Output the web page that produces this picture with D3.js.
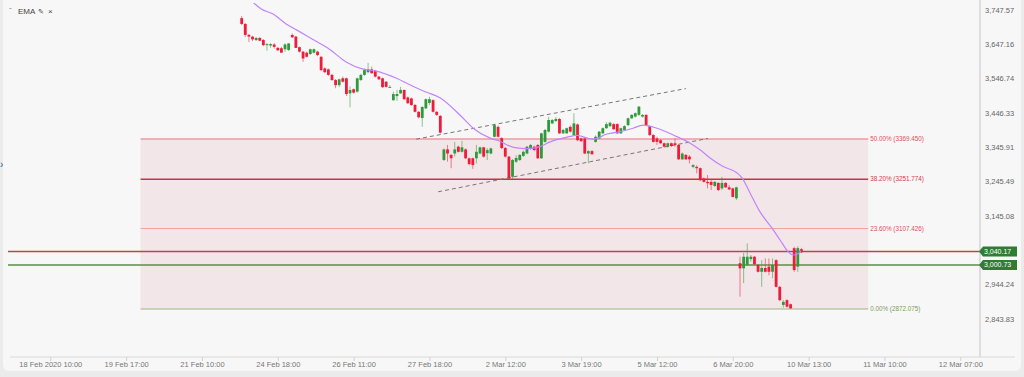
<!DOCTYPE html>
<html><head><meta charset="utf-8">
<script src="https://cdn.jsdelivr.net/npm/d3@7"></script>
<style>
body{margin:0;background:#ebebeb;}
svg{display:block;font-family:"Liberation Sans",Arial,sans-serif;}
</style></head><body>
<svg id="chart" width="1024" height="377"></svg>
<script>
// bar index of the first candle (axis labels sit every 21 bars from bar 0)
var firstBar = 53;
var barOpen  = [3723,3706,3674,3669,3659,3665,3659,3644,3643,3646,3636,3635,3632,3630,3674,3669,3638,3625,3622,3618,3622,3625,3610,3576,3573,3557,3542,3527,3547,3547,3503,3515,3508,3542,3557,3565,3573,3569,3552,3547,3537,3521,3483,3495,3503,3513,3491,3488,3469,3449,3431,3459,3475,3483,3449,3437,3308,3339,3323,3327,3347,3332,3339,3313,3313,3313,3327,3345,3328,3327,3376,3405,3372,3343,3318,3259,3303,3308,3320,3327,3342,3347,3352,3313,3361,3391,3415,3422,3428,3386,3386,3405,3381,3412,3371,3371,3327,3334,3361,3371,3386,3401,3407,3413,3413,3386,3396,3410,3430,3435,3440,3435,3440,3407,3381,3371,3366,3357,3347,3357,3357,3352,3310,3323,3318,3288,3288,3284,3254,3244,3244,3232,3241,3225,3241,3228,3225,3196,3006,2991,3001,3018,3025,3001,2981,2992,2996,2981,3015,2937,2884,2898,2886,3050,2996,3047];
var barHigh  = [3729,3709,3677,3671,3668,3668,3662,3650,3650,3650,3639,3639,3650,3650,3678,3671,3640,3627,3625,3634,3634,3628,3612,3579,3576,3560,3545,3546,3552,3549,3524,3517,3549,3560,3576,3592,3581,3571,3554,3549,3539,3527,3508,3513,3522,3514,3494,3491,3472,3451,3466,3488,3493,3486,3451,3440,3342,3352,3325,3361,3350,3364,3342,3315,3315,3352,3347,3347,3343,3344,3413,3409,3375,3346,3320,3311,3322,3325,3336,3349,3355,3350,3355,3388,3399,3434,3428,3434,3431,3399,3403,3409,3445,3415,3374,3374,3337,3337,3380,3393,3403,3419,3420,3416,3416,3403,3410,3432,3442,3447,3466,3442,3442,3410,3384,3376,3369,3359,3359,3359,3371,3355,3330,3325,3323,3296,3293,3286,3257,3264,3249,3246,3243,3259,3243,3235,3227,3230,3025,3036,3064,3030,3027,3004,3015,3020,3020,3020,3018,2939,2898,2901,2888,3054,3056,3051];
var barLow   = [3703,3668,3653,3656,3656,3656,3641,3628,3636,3634,3627,3621,3625,3627,3665,3636,3622,3595,3608,3615,3620,3612,3568,3562,3554,3539,3518,3521,3535,3495,3462,3502,3505,3539,3554,3562,3560,3549,3542,3519,3520,3519,3481,3481,3501,3483,3472,3466,3447,3430,3405,3457,3469,3447,3437,3385,3305,3303,3284,3318,3330,3330,3311,3293,3282,3298,3325,3315,3308,3325,3374,3374,3340,3315,3252,3252,3299,3305,3317,3325,3337,3334,3311,3311,3359,3388,3413,3419,3384,3384,3384,3388,3378,3363,3361,3325,3298,3323,3359,3369,3384,3399,3404,3396,3384,3384,3393,3407,3428,3432,3437,3432,3407,3378,3359,3352,3355,3344,3344,3346,3347,3308,3308,3308,3298,3284,3269,3246,3242,3225,3220,3229,3217,3220,3226,3220,3198,3191,2908,2948,2998,3010,3001,2979,2937,2979,2971,2962,2935,2895,2876,2876,2872,2981,2981,3036];
var barClose = [3706,3674,3669,3661,3665,3657,3644,3647,3647,3639,3629,3622,3646,3649,3667,3636,3625,3605,3610,3632,3632,3615,3571,3565,3557,3542,3527,3544,3537,3501,3513,3505,3547,3557,3571,3573,3562,3552,3544,3521,3522,3522,3501,3501,3513,3486,3474,3469,3449,3433,3463,3486,3486,3449,3440,3388,3339,3327,3313,3339,3332,3345,3313,3296,3293,3332,3345,3318,3337,3342,3410,3376,3343,3318,3254,3308,3314,3323,3332,3347,3352,3337,3313,3386,3396,3425,3425,3428,3386,3396,3401,3391,3415,3366,3363,3327,3334,3325,3376,3391,3401,3413,3417,3398,3386,3401,3407,3430,3440,3445,3464,3440,3410,3381,3361,3361,3357,3347,3357,3349,3352,3310,3327,3310,3310,3293,3284,3249,3244,3240,3235,3244,3220,3241,3228,3222,3200,3228,2991,3025,3025,3025,3003,2981,2992,2981,2981,3001,2937,2898,2893,2879,2874,2986,3050,3038];

// EMA (bar index, price)
var emaBar = [56.1,58.4,61.7,65.3,68.3,72.5,77.2,81.9,86.6,90.2,95.7,100.4,104,107.9,113.5,117.1,121.8,124.5,126.5,128.7,132,135.6,138.4,143.1,145.9,148.7,150.3,154.2,157.8,161.4,164.2,168,172.5,177.2,180,182.7,186.3,190.2,191.6,193.8,196.5,199.9,202.1,204.3,205.7,207.1,207.9];
var emaVal = [3770,3750,3735,3706,3688,3662,3633,3595,3574,3568,3548,3524,3507,3490,3439,3401,3372,3363,3352,3344,3341,3347,3361,3375,3380,3372,3369,3384,3391,3401,3410,3401,3381,3357,3337,3314,3289,3270,3255,3211,3157,3108,3074,3040,3030,3034,3043];

var xLabels = ["18 Feb 2020 10:00","19 Feb 17:00","21 Feb 10:00","24 Feb 18:00","26 Feb 11:00","27 Feb 18:00","2 Mar 12:00","3 Mar 19:00","5 Mar 12:00","6 Mar 20:00","10 Mar 13:00","11 Mar 10:00","12 Mar 07:00"];
var labelEvery = 21;
// 3,044.66 sits under the 3,040.17 tag in the picture, so it is left out
var yTicks = [3747.57,3647.16,3546.74,3446.33,3345.91,3245.49,3145.08,2944.24,2843.83];

var fibNames = ["50.00%","38.20%","23.60%","0.00%"];
var fibVals = [3369.450,3251.774,3107.426,2872.075];
var fibFrom = 25, fibTo = 226.5;

var channelUpper = [[101.3,3369],[176,3517]];
var channelLower = [[107.4,3215],[182.1,3371]];
var priceLines = [3040.17, 3000.73];

var svg = d3.select("#chart");
var W = 1024, H = 377, axisX = 980, axisY = 357;

var x = d3.scaleLinear().domain([0, 252]).range([50.3, 960.3]);
var y = d3.scaleLinear().domain([2731.65, 3776.12]).range([axisY, 0]);

svg.append("rect").attr("x", 3).attr("y", -8).attr("width", W - 6).attr("height", H + 2)
	.attr("rx", 6).attr("fill", "#f7f7f7");

svg.append("clipPath").attr("id", "plot")
	.append("rect").attr("x", 8).attr("y", 3).attr("width", axisX - 8).attr("height", axisY - 3);

var plot = svg.append("g").attr("clip-path", "url(#plot)");

// fibonacci box
plot.append("rect")
	.attr("x", x(fibFrom)).attr("width", x(fibTo) - x(fibFrom))
	.attr("y", y(fibVals[0])).attr("height", y(fibVals[3]) - y(fibVals[0]))
	.attr("fill", "#f3e6e8");

var fibLine = ["#e8727c", "#c9333d", "#f4a0a0", "#9cb584"];
var fibText = ["#df4f5a", "#d23c46", "#e0505a", "#7c9d5e"];
var fibWidth = [1, 1.6, 1, 1];
fibVals.forEach(function (v, i) {
	plot.append("line")
		.attr("x1", x(fibFrom)).attr("x2", x(fibTo))
		.attr("y1", y(v)).attr("y2", y(v))
		.attr("stroke", fibLine[i]).attr("stroke-width", fibWidth[i]);
	plot.append("text")
		.attr("x", x(fibTo) + 2).attr("y", y(v)).attr("dy", "0.35em")
		.attr("font-size", 6.3).attr("fill", fibText[i])
		.text(fibNames[i] + " (" + v.toFixed(3) + ")");
});

// full width price lines
var priceColors = ["#b24a48", "#5c8e47"];
priceLines.forEach(function (v, i) {
	plot.append("line")
		.attr("x1", 8).attr("x2", axisX)
		.attr("y1", y(v)).attr("y2", y(v))
		.attr("stroke", priceColors[i]).attr("stroke-width", 1.4);
});

// channel
[channelUpper, channelLower].forEach(function (c) {
	plot.append("line")
		.attr("x1", x(c[0][0])).attr("y1", y(c[0][1]))
		.attr("x2", x(c[1][0])).attr("y2", y(c[1][1]))
		.attr("stroke", "#777").attr("stroke-width", 1)
		.attr("stroke-dasharray", "4,3");
});

// candles
var bars = barOpen.map(function (o, k) {
	return {i: firstBar + k, o: o, h: barHigh[k], l: barLow[k], c: barClose[k]};
});
var up = "#2f9a3c", down = "#ee1c3a";
var g = plot.append("g").selectAll("g").data(bars).enter().append("g");
g.append("line")
	.attr("x1", function (d) { return x(d.i); }).attr("x2", function (d) { return x(d.i); })
	.attr("y1", function (d) { return y(d.h); }).attr("y2", function (d) { return y(d.l); })
	.attr("stroke", function (d) { return d.c >= d.o ? up : down; })
	.attr("stroke-opacity", 0.55).attr("stroke-width", 1);
g.append("rect")
	.attr("x", function (d) { return x(d.i) - 1.4; }).attr("width", 2.8)
	.attr("y", function (d) { return y(Math.max(d.o, d.c)); })
	.attr("height", function (d) { return Math.max(1, Math.abs(y(d.o) - y(d.c))); })
	.attr("fill", function (d) { return d.c >= d.o ? up : down; });

// ema
var emaPts = emaBar.map(function (b, k) { return [b, emaVal[k]]; });
plot.append("path")
	.attr("d", d3.line().x(function (d) { return x(d[0]); }).y(function (d) { return y(d[1]); })
		.curve(d3.curveMonotoneX)(emaPts))
	.attr("fill", "none").attr("stroke", "#c084fc").attr("stroke-width", 1.2);

// axes
var yAxis = svg.append("g").attr("transform", "translate(" + axisX + ",0)")
	.call(d3.axisRight(y).tickValues(yTicks).tickSize(0).tickPadding(5).tickFormat(d3.format(",.2f")));
yAxis.select(".domain").remove();
yAxis.selectAll("text").attr("font-size", 7.5).attr("fill", "#666").attr("font-family", "Liberation Sans, Arial");
svg.append("line").attr("x1", axisX).attr("x2", axisX).attr("y1", 0).attr("y2", axisY)
	.attr("stroke", "#c4c4c4");

var xAxis = svg.append("g").attr("transform", "translate(0," + axisY + ")")
	.call(d3.axisBottom(x).tickValues(d3.range(0, 253, labelEvery)).tickSize(4).tickPadding(1)
		.tickFormat(function (d, i) { return xLabels[i]; }));
xAxis.select(".domain").remove();
xAxis.selectAll(".tick line").attr("stroke", "#d0d0d0");
xAxis.selectAll("text").attr("font-size", 7.5).attr("fill", "#777").attr("font-family", "Liberation Sans, Arial");
svg.append("line").attr("x1", 10).attr("x2", 1015).attr("y1", axisY).attr("y2", axisY)
	.attr("stroke", "#dadada");

// price tags on the right axis
priceLines.forEach(function (v) {
	var cy = y(v);
	svg.append("path")
		.attr("d", "M" + (axisX - 1) + "," + cy + "L" + (axisX + 3) + "," + (cy - 5) + "H1017V" + (cy + 5) + "H" + (axisX + 3) + "Z")
		.attr("fill", "#2e7d32");
	svg.append("text").attr("x", axisX + 4).attr("y", cy).attr("dy", "0.35em")
		.attr("font-size", 7).attr("fill", "#fff").text(d3.format(",.2f")(v));
});

// legend
var leg = svg.append("g").attr("font-size", 8).attr("fill", "#444");
leg.append("text").attr("x", 9).attr("y", 13).text("\u207b");
leg.append("text").attr("x", 18).attr("y", 14).text("EMA");
leg.append("text").attr("x", 38).attr("y", 14).attr("font-family", "DejaVu Sans").attr("font-size", 7).text("\u270e");
leg.append("text").attr("x", 48).attr("y", 14).attr("font-size", 8).text("\u00d7");

svg.append("text").attr("x", 0).attr("y", 168).attr("font-size", 10).attr("fill", "#2a5aa0").text("\u203a");
</script>
</body></html>
